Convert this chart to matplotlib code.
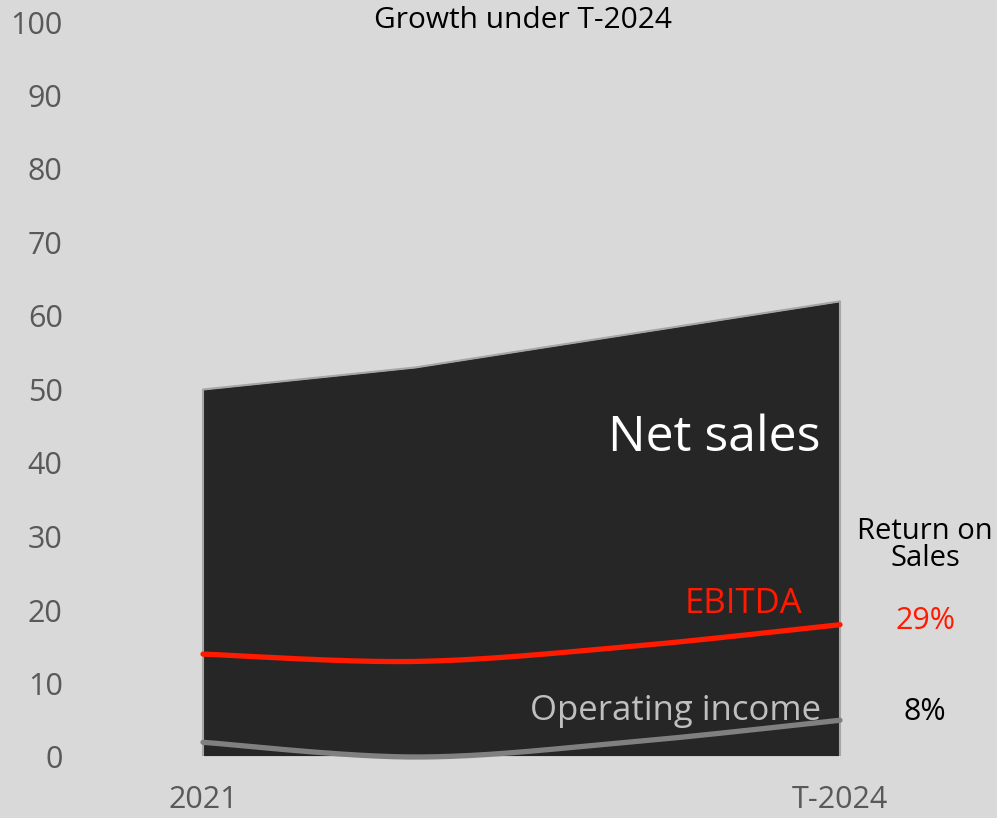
import numpy as np
import matplotlib
matplotlib.use("Agg")
import matplotlib.pyplot as plt

plt.rcParams['font.family'] = ['Open Sans', 'DejaVu Sans']

# Data
x_labels = ["2021", "", "", "T-2024"]
net_sales = [50, 53, 57.5, 62]
ebitda = [14, 13, 15, 18]
operating_income = [2, 0, 2, 5]
y_ticks = [0, 10, 20, 30, 40, 50, 60, 70, 80, 90, 100]

BG = "#d9d9d9"


def smooth(xs, ys, n=60):
    """Bezier smoothing through every point (office-style smoothed line)."""
    pts = np.column_stack([xs, ys]).astype(float)
    out = []
    for i in range(len(pts) - 1):
        p0 = pts[i - 1] if i > 0 else pts[i]
        p1, p2 = pts[i], pts[i + 1]
        p3 = pts[i + 2] if i + 2 < len(pts) else pts[i + 1]
        c1 = p1 + (p2 - p0) / 6.0
        c2 = p2 - (p3 - p1) / 6.0
        t = np.linspace(0, 1, n)[:, None]
        seg = ((1 - t) ** 3) * p1 + 3 * ((1 - t) ** 2) * t * c1 + 3 * (1 - t) * t ** 2 * c2 + t ** 3 * p2
        out.append(seg if i == 0 else seg[1:])
    out = np.vstack(out)
    return out[:, 0], out[:, 1]


W, H = 997, 818
fig = plt.figure(figsize=(W / 100, H / 100), dpi=100, facecolor=BG)
ax = fig.add_axes([203 / W, 1 - 757 / H, (840 - 203) / W, (757 - 22) / H])
ax.set_facecolor(BG)

x = np.arange(len(x_labels))

# Net sales area
ax.fill_between(x, 0, net_sales, color="#262626", zorder=1, linewidth=0)
ax.plot(np.r_[x[0], x, x[-1]], np.r_[0, net_sales, 0], color="#a6a6a6",
        lw=1.5, zorder=2, clip_on=False)
ax.plot([x[0], x[-1]], [0, 0], color="#ececec", lw=1.2, zorder=2, clip_on=False)

# Smoothed lines
ex, ey = smooth(x, ebitda)
ax.plot(ex, ey, color="#ff1a00", lw=3.8, solid_capstyle="round", zorder=3, clip_on=False)
ox, oy = smooth(x, operating_income)
ax.plot(ox, oy, color="#808080", lw=3.8, solid_capstyle="round", zorder=3, clip_on=False)

ax.set_xlim(0, 3)
ax.set_ylim(0, 100)
ax.set_yticks(y_ticks)
ax.set_yticklabels([str(v) for v in y_ticks])
ax.set_xticks(x)
ax.set_xticklabels(x_labels)
ax.tick_params(axis="y", length=0, pad=101, labelsize=22, labelcolor="#595959")
ax.tick_params(axis="x", length=0, pad=20, labelsize=22, labelcolor="#595959")
for s in ax.spines.values():
    s.set_visible(False)

# Series labels
ax.text(2.91, 41.6, "Net sales", color="white", fontsize=36, ha="right", va="baseline")
ax.text(2.825, 19.6, "EBITDA", color="#ff1a00", fontsize=25, ha="right", va="baseline")
ax.text(2.91, 5.0, "Operating income", color="#bfbfbf", fontsize=25, ha="right", va="baseline")

# Return on sales column
ros_ebitda = round(ebitda[-1] / net_sales[-1] * 100)
ros_oi = round(operating_income[-1] / net_sales[-1] * 100)
fig.text(925 / W, 1 - 545 / H, "Return on\nSales", color="black", fontsize=21,
         ha="center", va="center", linespacing=0.95)
fig.text(925 / W, 1 - 621 / H, f"{ros_ebitda}%", color="#ff1a00", fontsize=22,
         ha="center", va="center")
fig.text(925 / W, 1 - 712 / H, f"{ros_oi}%", color="black", fontsize=22,
         ha="center", va="center")

fig.text(523 / W, 1 - 21 / H, "Growth under T-2024", color="black", fontsize=21.5,
         ha="center", va="center")

fig.savefig("out.png", dpi=100, facecolor=BG)
